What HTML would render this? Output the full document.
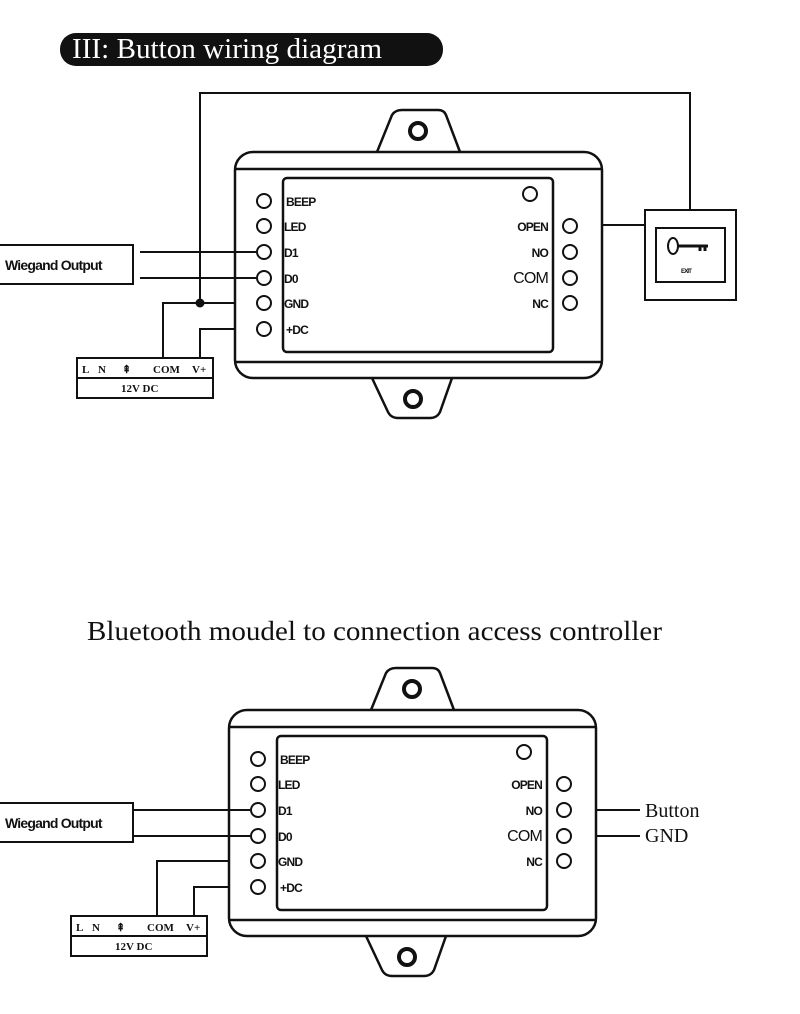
<!DOCTYPE html>
<html><head><meta charset="utf-8"><style>
html,body{margin:0;padding:0;background:#fff;}
svg{display:block}
.s{font-family:"Liberation Sans",sans-serif;font-weight:bold;font-size:12px;letter-spacing:-0.8px;fill:#111}
.r{font-family:"Liberation Serif",serif;fill:#111}
</style></head><body>
<svg width="800" height="1014" viewBox="0 0 800 1014" xmlns="http://www.w3.org/2000/svg">
<defs>
<g id="ctrl" fill="none" stroke="#111" stroke-width="2.5">
  <path d="M377,152 L392,115 Q395,110 402,110 L438,110 Q444,110 446,115 L460,152" fill="#fff"/>
  <circle cx="418" cy="131" r="8" stroke-width="4"/>
  <path d="M372,378 L388,412 Q391,418 398,418 L430,418 Q437,418 440,412 L452,378" fill="#fff"/>
  <circle cx="413" cy="399" r="8" stroke-width="4"/>
  <rect x="235" y="152" width="367" height="226" rx="18" fill="#fff"/>
  <line x1="235" y1="169" x2="602" y2="169"/>
  <line x1="235" y1="362" x2="602" y2="362"/>
  <rect x="283" y="178" width="270" height="174" rx="4"/>
  <g stroke-width="2">
  <circle cx="264" cy="201" r="7"/><circle cx="264" cy="226" r="7"/><circle cx="264" cy="252" r="7"/>
  <circle cx="264" cy="278" r="7"/><circle cx="264" cy="303" r="7"/><circle cx="264" cy="329" r="7"/>
  <circle cx="570" cy="226" r="7"/><circle cx="570" cy="252" r="7"/><circle cx="570" cy="278" r="7"/><circle cx="570" cy="303" r="7"/>
  <circle cx="530" cy="194" r="7"/>
  </g>
</g>
<g id="lbl">
  <text class="s" x="286" y="206">BEEP</text>
  <text class="s" x="284" y="231">LED</text>
  <text class="s" x="284" y="257">D1</text>
  <text class="s" x="284" y="283">D0</text>
  <text class="s" x="284" y="308">GND</text>
  <text class="s" x="286" y="334">+DC</text>
  <text class="s" x="548" y="231" text-anchor="end">OPEN</text>
  <text class="s" x="548" y="257" text-anchor="end">NO</text>
  <text class="s" x="548" y="283" text-anchor="end" style="font-weight:normal;font-size:16px">COM</text>
  <text class="s" x="548" y="308" text-anchor="end">NC</text>
</g>
<g id="wbox">
  <rect x="-2" y="245" width="135" height="39" fill="#fff" stroke="#111" stroke-width="2"/>
  <text class="s" x="5" y="270" style="font-size:14px">Wiegand Output</text>
</g>
<g id="wg">
  <rect x="77" y="358" width="136" height="40" fill="#fff" stroke="#111" stroke-width="2"/>
  <line x1="77" y1="378" x2="213" y2="378" stroke="#111" stroke-width="2"/>
  <g class="r" font-size="11" font-weight="bold">
  <text x="82" y="373">L</text><text x="98" y="373">N</text><text x="122" y="373">⇞</text>
  <text x="153" y="373">COM</text><text x="192" y="373">V+</text>
  <text x="121" y="392">12V DC</text></g>
  <polyline points="235,303 163,303 163,358" fill="none" stroke="#111" stroke-width="2"/>
  <polyline points="235,329 200,329 200,358" fill="none" stroke="#111" stroke-width="2"/>
</g>
<g id="wl" stroke="#111" stroke-width="2"><line x1="140" y1="252" x2="256" y2="252"/><line x1="140" y1="278" x2="256" y2="278"/></g>
</defs>

<rect x="60" y="33" width="383" height="33" rx="16" fill="#111"/>
<text class="r" x="72" y="58" font-size="28" textLength="310" lengthAdjust="spacingAndGlyphs" style="fill:#fff">III: Button wiring diagram</text>

<use href="#wbox"/>
<use href="#wg"/>
<use href="#ctrl"/>
<use href="#wl"/>
<use href="#lbl"/>
<g stroke="#111" stroke-width="2" fill="none">
  <polyline points="200,303 200,93 690,93 690,210"/>
  <line x1="602" y1="225" x2="645" y2="225"/>
  <rect x="645" y="210" width="91" height="90"/>
  <rect x="656" y="228" width="69" height="54"/>
  <ellipse cx="673" cy="246" rx="5" ry="8"/>
  <line x1="678" y1="246" x2="708" y2="246" stroke-width="3"/>
  <line x1="700" y1="246" x2="700" y2="251" stroke-width="3"/>
  <line x1="705" y1="246" x2="705" y2="251" stroke-width="3"/>
</g>
<circle cx="200" cy="303" r="4.5" fill="#111"/>
<text class="s" x="681" y="273" style="font-size:6px">EXIT</text>

<text class="r" x="87" y="640" font-size="27" textLength="575" lengthAdjust="spacingAndGlyphs">Bluetooth moudel to connection access controller</text>

<use href="#wbox" transform="translate(0,558)"/>
<g transform="translate(-6,558)">
<use href="#wg"/>
<use href="#ctrl"/>
<use href="#wl"/>
<use href="#lbl"/>
</g>
<g stroke="#111" stroke-width="2"><line x1="596" y1="810" x2="640" y2="810"/><line x1="596" y1="836" x2="640" y2="836"/></g>
<text class="r" x="645" y="817" font-size="20">Button</text>
<text class="r" x="645" y="842" font-size="20">GND</text>
</svg>
</body></html>
